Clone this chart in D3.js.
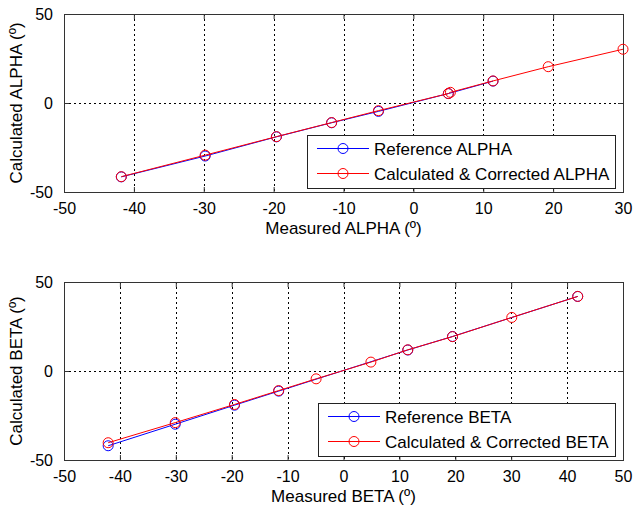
<!DOCTYPE html>
<html lang="en">
<head>
  <meta charset="UTF-8" />
  <title>ALPHA / BETA calibration</title>
  <script src="https://d3js.org/d3.v7.min.js"></script>
  <style>
    body { margin: 0; background: #fff; }
    svg { display: block; font-family: Arial, "Liberation Sans", sans-serif; }
    .grid line { stroke: #000; stroke-width: 1; stroke-dasharray: 2,3; shape-rendering: crispEdges; }
  </style>
</head>
<body>
  <svg width="633" height="508"></svg>
  <script>
    // ALPHA panel
    const alphaRefX = [-41.8, -29.8, -19.6, -11.7, -5.0, 5.0, 11.4];
    const alphaRefY = [-41.5, -29.8, -19.0, -11.1, -4.7, 5.3, 12.3];
    const alphaCorX = [-41.8, -29.8, -19.6, -11.7, -5.0, 5.0, 5.3, 11.4, 19.3, 30.0];
    const alphaCorY = [-41.4, -29.3, -18.9, -11.0, -4.3, 5.3, 6.0, 12.4, 20.4, 30.2];
    const alphaXTicks = [-50, -40, -30, -20, -10, 0, 10, 20, 30];

    // BETA panel
    const betaRefX = [-42.1, -30.1, -19.5, -11.6, 11.5, 19.5, 41.9];
    const betaRefY = [-42.0, -29.9, -19.2, -11.3, 11.8, 19.4, 41.9];
    const betaCorX = [-42.1, -30.1, -19.5, -11.6, -4.9, 4.9, 11.5, 19.5, 30.1, 41.9];
    const betaCorY = [-40.3, -29.0, -18.8, -11.0, -4.4, 5.0, 11.9, 19.3, 30.1, 41.9];
    const betaXTicks = [-50, -40, -30, -20, -10, 0, 10, 20, 30, 40, 50];

    const yTicks = [-50, 0, 50];

    const svg = d3.select("svg");
    const fmt = d => String(d);

    function panel(cfg) {
      const w = 559, h = 178;
      const g = svg.append("g").attr("transform", `translate(64,${cfg.top})`);
      const x = d3.scaleLinear().domain(cfg.xDomain).range([0, w]);
      const y = d3.scaleLinear().domain([-50, 50]).range([h, 0]);

      // grid
      const grid = g.append("g").attr("class", "grid");
      grid.selectAll(".gx").data(cfg.xTicks.slice(1, -1)).join("line")
        .attr("x1", d => Math.round(x(d)) + 0.5).attr("x2", d => Math.round(x(d)) + 0.5)
        .attr("y1", 0).attr("y2", h);
      grid.selectAll(".gy").data([0]).join("line")
        .attr("y1", d => Math.round(y(d)) + 0.5).attr("y2", d => Math.round(y(d)) + 0.5)
        .attr("x1", 0).attr("x2", w);

      // axes (ticks inside)
      const axB = g.append("g").attr("transform", `translate(0,${h})`)
        .call(d3.axisBottom(x).tickValues(cfg.xTicks).tickSizeInner(-5).tickSizeOuter(0).tickPadding(11).tickFormat(fmt));
      const axT = g.append("g")
        .call(d3.axisTop(x).tickValues(cfg.xTicks).tickSizeInner(-5).tickSizeOuter(0).tickFormat(""));
      const axL = g.append("g")
        .call(d3.axisLeft(y).tickValues(yTicks).tickSizeInner(-5).tickSizeOuter(0).tickPadding(11).tickFormat(fmt));
      const axR = g.append("g").attr("transform", `translate(${w},0)`)
        .call(d3.axisRight(y).tickValues(yTicks).tickSizeInner(-5).tickSizeOuter(0).tickFormat(""));
      [axB, axT, axL, axR].forEach(a => {
        a.select(".domain").remove();
        a.selectAll("line").attr("stroke", "#333");
        a.selectAll("text").attr("font-size", 16).attr("fill", "#000")
          .attr("font-family", "Arial, 'Liberation Sans', sans-serif");
      });
      g.append("rect").attr("x", 0.5).attr("y", 0.5).attr("width", w).attr("height", h)
        .attr("fill", "none").attr("stroke", "#333").attr("stroke-width", 1);

      // series
      const line = d3.line().x(d => x(d[0])).y(d => y(d[1]));
      cfg.series.forEach(s => {
        const pts = s.xs.map((v, i) => [v, s.ys[i]]);
        g.append("path").datum(pts).attr("d", line)
          .attr("fill", "none").attr("stroke", s.color).attr("stroke-width", 1);
        g.append("g").selectAll("circle").data(pts).join("circle")
          .attr("cx", d => x(d[0])).attr("cy", d => y(d[1])).attr("r", 5)
          .attr("fill", "none").attr("stroke", s.color).attr("stroke-width", 1);
      });

      // axis titles
      g.append("text").attr("x", w / 2).attr("y", h + 41.5).attr("text-anchor", "middle")
        .attr("font-size", 17).text(cfg.xLabel);
      g.append("text").attr("transform", `translate(-42,${h / 2}) rotate(-90)`)
        .attr("text-anchor", "middle").attr("font-size", 17).text(cfg.yLabel);

      // legend
      const lg = g.append("g").attr("transform", `translate(${w - 8 - cfg.legendW},${h - 57})`);
      lg.append("rect").attr("x", 0.5).attr("y", 0.5).attr("width", cfg.legendW).attr("height", 53)
        .attr("fill", "#fff").attr("stroke", "#222");
      cfg.series.forEach((s, i) => {
        const ly = 13.5 + i * 25;
        lg.append("line").attr("x1", 10).attr("x2", 62).attr("y1", ly).attr("y2", ly)
          .attr("stroke", s.color);
        lg.append("circle").attr("cx", 36).attr("cy", ly).attr("r", 5)
          .attr("fill", "none").attr("stroke", s.color);
        lg.append("text").attr("x", 67).attr("y", ly + 6).attr("font-size", 17).text(s.name);
      });
    }

    panel({
      top: 14, xDomain: [-50, 30], xTicks: alphaXTicks,
      xLabel: "Measured ALPHA (º)", yLabel: "Calculated ALPHA (º)", legendW: 308,
      series: [
        { name: "Reference ALPHA", color: "#0000ff", xs: alphaRefX, ys: alphaRefY },
        { name: "Calculated & Corrected ALPHA", color: "#ff0000", xs: alphaCorX, ys: alphaCorY }
      ]
    });

    panel({
      top: 282, xDomain: [-50, 50], xTicks: betaXTicks,
      xLabel: "Measured BETA (º)", yLabel: "Calculated BETA (º)", legendW: 297,
      series: [
        { name: "Reference BETA", color: "#0000ff", xs: betaRefX, ys: betaRefY },
        { name: "Calculated & Corrected BETA", color: "#ff0000", xs: betaCorX, ys: betaCorY }
      ]
    });
  </script>
</body>
</html>
